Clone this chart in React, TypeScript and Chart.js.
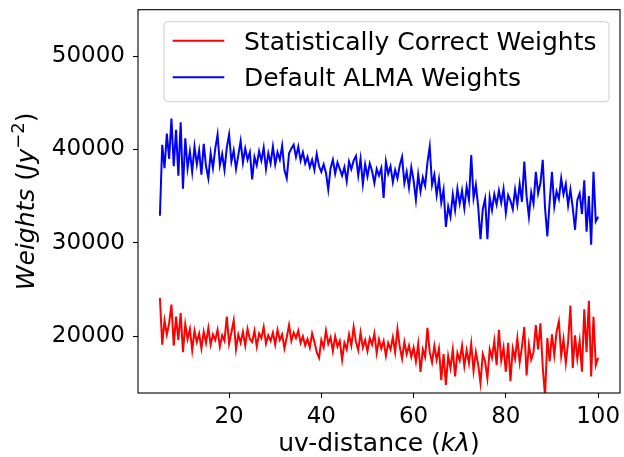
import React, { useEffect, useRef } from 'react';
import { Chart, registerables } from 'chart.js';

Chart.register(...registerables);

// uv-distance bins (kλ)
const uvDistance = [
  5, 5.5, 6, 6.5, 7, 7.5, 8, 8.5, 9, 9.5,
  10, 10.5, 11, 11.5, 12, 12.5, 13, 13.5, 14, 14.5,
  15, 15.5, 16, 16.5, 17, 17.5, 18, 18.5, 19, 19.5,
  20, 20.5, 21, 21.5, 22, 22.5, 23, 23.5, 24, 24.5,
  25, 25.5, 26, 26.5, 27, 27.5, 28, 28.5, 29, 29.5,
  30, 30.5, 31, 31.5, 32, 32.5, 33, 33.5, 34, 34.5,
  35, 35.5, 36, 36.5, 37, 37.5, 38, 38.5, 39, 39.5,
  40, 40.5, 41, 41.5, 42, 42.5, 43, 43.5, 44, 44.5,
  45, 45.5, 46, 46.5, 47, 47.5, 48, 48.5, 49, 49.5,
  50, 50.5, 51, 51.5, 52, 52.5, 53, 53.5, 54, 54.5,
  55, 55.5, 56, 56.5, 57, 57.5, 58, 58.5, 59, 59.5,
  60, 60.5, 61, 61.5, 62, 62.5, 63, 63.5, 64, 64.5,
  65, 65.5, 66, 66.5, 67, 67.5, 68, 68.5, 69, 69.5,
  70, 70.5, 71, 71.5, 72, 72.5, 73, 73.5, 74, 74.5,
  75, 75.5, 76, 76.5, 77, 77.5, 78, 78.5, 79, 79.5,
  80, 80.5, 81, 81.5, 82, 82.5, 83, 83.5, 84, 84.5,
  85, 85.5, 86, 86.5, 87, 87.5, 88, 88.5, 89, 89.5,
  90, 90.5, 91, 91.5, 92, 92.5, 93, 93.5, 94, 94.5,
  95, 95.5, 96, 96.5, 97, 97.5, 98, 98.5, 99, 99.5,
  100,
];

// Statistically Correct Weights (red)
const correctWeights = [
  24100, 19100, 21700, 20200, 21400, 23400, 19000, 22100, 19600, 22500,
  18300, 21300, 19700, 20800, 18500, 20600, 19400, 20300, 18700, 20500,
  19300, 20900, 19100, 20200, 19600, 20700, 18900, 20100, 19500, 22100,
  19200, 20400, 21700, 18600, 20200, 19300, 20500, 19000, 20800, 19700,
  19400, 20600, 18900, 20300, 19800, 21000, 19200, 20100, 19500, 20400,
  19100, 20700, 19600, 20200, 18700, 19900, 21200, 19500, 20400, 19800,
  20600, 19300, 20000, 19000, 19700, 18800, 20300, 19400, 18300, 17700,
  19600, 18800, 20600, 19200, 19900, 18400, 20000, 18900, 19500, 17500,
  19300, 18600, 20200, 19000, 21000, 19400, 18500, 20400, 18800, 19600,
  18400, 19800, 19100, 20300, 18200, 19700, 18700, 19500, 17900, 19300,
  18600, 19900, 18300, 20800, 18900, 17600, 19400, 18100, 19000, 17800,
  18800, 17300, 19200, 16200, 18600, 17800, 20900, 18300, 17200, 19000,
  17500, 18700, 15300, 18100, 14800, 17900, 16600, 18600, 15700, 18200,
  17400, 19000, 16800, 18500, 17100, 19200, 16300, 18300, 17000, 15000,
  18100, 17300, 15500, 18600, 17700, 19500, 16900, 20700, 17400, 18800,
  16200, 19300, 15200, 18700, 17600, 19800, 17200, 18900, 21000, 15800,
  19100, 17500, 18300, 21200, 18600, 21400, 16700, 13600, 19800, 17300,
  20200, 18000, 20500, 21600, 17900, 19700, 17100, 19400, 23300, 16600,
  20100, 17600, 19500, 16200, 22900, 18300, 23800, 15700, 22100, 16900,
  17700,
];

// Default ALMA Weights (blue)
const almaWeights = [
  32900, 40500, 38000, 41700, 39000, 43300, 38200, 42100, 37200, 42900,
  35800, 41200, 38000, 39800, 37600, 40300, 38400, 39900, 37300, 40600,
  38200, 36900, 39600, 38000, 40100, 41600, 38300, 39500, 37800, 40200,
  41600, 38700, 39900, 37900, 39400, 40900, 38600, 40100, 38900, 39700,
  36800, 39200, 38300, 39800, 38800, 40200, 37900, 39600, 38500, 40300,
  38400, 39700, 38900, 40400, 37800, 36900, 39600, 40100, 40500, 39200,
  40300, 38800, 39700, 38500, 39200, 38100, 38900, 37800, 39500, 38200,
  37600, 38400, 37500, 35700, 38000, 38900, 37400, 38600, 37900, 37200,
  38100, 36600, 38700, 37900, 38800, 39300, 37200, 39000, 36300, 38400,
  37100, 38500, 37700, 36400, 37900, 37200, 38000, 34800, 38700, 37400,
  38200, 36500, 37800, 36900, 38300, 39200, 36400, 37600, 35900, 38100,
  36700, 34600, 37300, 35500, 37000, 36100, 38600, 40300, 36200, 37300,
  35100, 36800, 34300, 35700, 31700, 33900, 32800, 35200, 33500, 35800,
  34200, 35600, 33700, 36000, 34600, 39400, 34800, 36200, 33900, 30400,
  33600, 34700, 30400, 34900, 33500, 35200, 34100, 35600, 34300, 35800,
  33200, 35100, 34500, 33600, 35700, 34100, 36300, 34400, 38700, 35000,
  32800, 35400, 34200, 37600, 35300, 36400, 38900, 33700, 30700, 34400,
  37600, 33900, 35500, 34700, 36900, 35200, 36300, 34000, 35700, 33800,
  31400, 34600, 35300, 33100, 36700, 31200, 35000, 29800, 37600, 32300,
  32800,
];

const xTicks = [20, 40, 60, 80, 100];
const yTicks = [20000, 30000, 40000, 50000];
const seriesLabels = ['Statistically Correct Weights', 'Default ALMA Weights'];
const seriesColors = ['#ff0000', '#0000ff'];

const FONT = "'DejaVu Sans', sans-serif";

const decorPlugin = {
  id: 'decor',
  afterDraw(chart: any) {
    const { ctx, chartArea: a } = chart;
    ctx.save();
    // frame (all four spines)
    ctx.strokeStyle = '#000';
    ctx.lineWidth = 1.1;
    ctx.strokeRect(a.left, a.top, a.right - a.left, a.bottom - a.top);

    // x-axis title: uv-distance (kλ)
    const xParts: [string, string][] = [
      ['uv-distance (', `25px ${FONT}`],
      ['kλ', `italic 25px ${FONT}`],
      [')', `25px ${FONT}`],
    ];
    let total = 0;
    for (const [t, f] of xParts) { ctx.font = f; total += ctx.measureText(t).width; }
    let cx = (a.left + a.right) / 2 - total / 2;
    ctx.fillStyle = '#000';
    ctx.textBaseline = 'alphabetic';
    ctx.textAlign = 'left';
    for (const [t, f] of xParts) {
      ctx.font = f;
      ctx.fillText(t, cx, 451);
      cx += ctx.measureText(t).width;
    }

    // y-axis title: Weights (Jy^-2)
    const yParts: [string, string, number][] = [
      ['Weights', `italic 25px ${FONT}`, 0],
      [' (', `25px ${FONT}`, 0],
      ['Jy', `italic 25px ${FONT}`, 0],
      ['−2', `18px ${FONT}`, -10],
      [')', `25px ${FONT}`, 0],
    ];
    total = 0;
    for (const [t, f] of yParts) { ctx.font = f; total += ctx.measureText(t).width; }
    ctx.save();
    ctx.translate(33.5, (a.top + a.bottom) / 2);
    ctx.rotate(-Math.PI / 2);
    let yx = -total / 2;
    for (const [t, f, dy] of yParts) {
      ctx.font = f;
      ctx.fillText(t, yx, dy);
      yx += ctx.measureText(t).width;
    }
    ctx.restore();

    // legend
    const bx = 164, by = 21.7, bw = 445, bh = 80, r = 4;
    ctx.beginPath();
    ctx.moveTo(bx + r, by);
    ctx.lineTo(bx + bw - r, by);
    ctx.quadraticCurveTo(bx + bw, by, bx + bw, by + r);
    ctx.lineTo(bx + bw, by + bh - r);
    ctx.quadraticCurveTo(bx + bw, by + bh, bx + bw - r, by + bh);
    ctx.lineTo(bx + r, by + bh);
    ctx.quadraticCurveTo(bx, by + bh, bx, by + bh - r);
    ctx.lineTo(bx, by + r);
    ctx.quadraticCurveTo(bx, by, bx + r, by);
    ctx.closePath();
    ctx.fillStyle = 'rgba(255,255,255,0.8)';
    ctx.fill();
    ctx.strokeStyle = '#cccccc';
    ctx.lineWidth = 1;
    ctx.stroke();

    const rows = [40.7, 77.3];
    seriesLabels.forEach((lab, i) => {
      const yy = rows[i];
      ctx.strokeStyle = seriesColors[i];
      ctx.lineWidth = 2;
      ctx.beginPath();
      ctx.moveTo(172.7, yy);
      ctx.lineTo(224.3, yy);
      ctx.stroke();
      ctx.fillStyle = '#000';
      ctx.font = `25px ${FONT}`;
      ctx.textBaseline = 'alphabetic';
      ctx.fillText(lab, 244, yy + 8.8);
    });
    ctx.restore();
  },
};

export default function App() {
  const ref = useRef<HTMLCanvasElement | null>(null);

  useEffect(() => {
    if (!ref.current) return;
    const chart = new Chart(ref.current, {
      type: 'line',
      data: {
        datasets: [
          {
            label: seriesLabels[0],
            data: uvDistance.map((x, i) => ({ x, y: correctWeights[i] })),
            borderColor: seriesColors[0],
            backgroundColor: seriesColors[0],
            borderWidth: 2,
            pointRadius: 0,
            tension: 0,
            fill: false,
          },
          {
            label: seriesLabels[1],
            data: uvDistance.map((x, i) => ({ x, y: almaWeights[i] })),
            borderColor: seriesColors[1],
            backgroundColor: seriesColors[1],
            borderWidth: 2,
            pointRadius: 0,
            tension: 0,
            fill: false,
          },
        ],
      },
      options: {
        animation: false,
        responsive: false,
        maintainAspectRatio: false,
        layout: { padding: { top: 9.7, right: 4, left: 0, bottom: 0 } },
        plugins: { legend: { display: false }, tooltip: { enabled: false } },
        scales: {
          x: {
            type: 'linear',
            min: 0.25,
            max: 104.75,
            afterBuildTicks: (s: any) => { s.ticks = xTicks.map((v) => ({ value: v })); },
            afterFit: (s: any) => { s.height = 64; s.paddingLeft = 0; s.paddingRight = 0; },
            grid: { drawOnChartArea: false, drawTicks: true, tickLength: 5, color: '#000', tickWidth: 1.1 },
            border: { display: false },
            ticks: {
              font: { family: FONT, size: 23 },
              color: '#000',
              padding: 5,
              maxRotation: 0,
              autoSkip: false,
              callback: (v: any) => String(v),
            },
          },
          y: {
            type: 'linear',
            min: 13930,
            max: 54960,
            afterBuildTicks: (s: any) => { s.ticks = yTicks.map((v) => ({ value: v })); },
            afterFit: (s: any) => { s.width = 138; s.paddingTop = 0; s.paddingBottom = 0; },
            grid: { drawOnChartArea: false, drawTicks: true, tickLength: 5, color: '#000', tickWidth: 1.1 },
            border: { display: false },
            ticks: {
              font: { family: FONT, size: 23 },
              color: '#000',
              padding: 8,
              autoSkip: false,
              callback: (v: any) => String(v),
            },
          },
        },
      },
      plugins: [decorPlugin],
    } as any);
    return () => chart.destroy();
  }, []);

  return (
    <div style={{ position: 'absolute', left: 0, top: 0, width: 624, height: 457, background: '#fff' }}>
      <canvas ref={ref} width={624} height={457} style={{ display: 'block' }} />
    </div>
  );
}
